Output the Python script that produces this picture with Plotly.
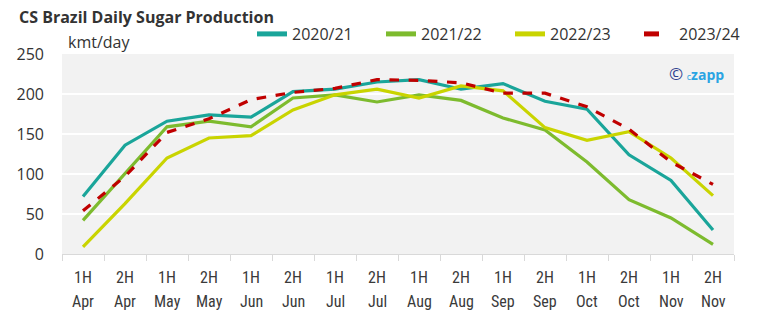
import plotly.graph_objects as go

# Half-month periods of the CS Brazil crush
halves = ["1H", "2H"] * 8
months = ["Apr", "Apr", "May", "May", "Jun", "Jun", "Jul", "Jul",
          "Aug", "Aug", "Sep", "Sep", "Oct", "Oct", "Nov", "Nov"]
categories = [f"{h} {m}" for h, m in zip(halves, months)]

# Daily sugar production, kmt/day
s2020_21 = [72, 136, 166, 174, 171, 203, 206, 215, 218, 206, 213, 191, 181, 124, 92, 30]
s2021_22 = [42, 100, 159, 166, 159, 195, 199, 190, 199, 192, 170, 155, 115, 68, 45, 12]
s2022_23 = [9, 63, 120, 145, 148, 180, 199, 206, 195, 210, 204, 158, 142, 153, 120, 73]
s2023_24 = [54, 97, 152, 169, 193, 202, 207, 218, 217, 214, 201, 201, 184, 156, 115, 87]

series = [
    ("2020/21", s2020_21, "#1aa59a", "solid"),
    ("2021/22", s2021_22, "#7dbb2e", "solid"),
    ("2022/23", s2022_23, "#c9d400", "solid"),
    ("2023/24", s2023_24, "#c00000", "dash"),
]

fig = go.Figure()
for name, vals, color, dash in series:
    fig.add_trace(go.Scatter(
        x=categories, y=vals, name=name, mode="lines",
        line=dict(color=color, width=3.2, dash=dash),
    ))

font_family = "Open Sans, Noto Sans, sans-serif"
narrow_family = "Liberation Sans Narrow, Roboto Condensed, DejaVu Sans Condensed, Open Sans, sans-serif"
text_color = "#333333"

fig.update_layout(
    width=759, height=328,
    margin=dict(l=62, r=25, t=54, b=74, autoexpand=False),
    paper_bgcolor="white",
    plot_bgcolor="#f2f2f2",
    font=dict(family=font_family, size=16, color=text_color),
    showlegend=True,
    legend=dict(
        orientation="h", xref="paper", yref="paper",
        x=(252 - 62) / 672, xanchor="left", y=1.1, yanchor="middle",
        font=dict(size=16, color=text_color),
        entrywidth=84, entrywidthmode="pixels",
        bgcolor="rgba(0,0,0,0)", itemsizing="constant",
        traceorder="normal",
    ),
    xaxis=dict(
        type="category",
        showgrid=False,
        showline=True, linecolor="#d9d9d9", linewidth=1,
        ticks="outside", tickson="boundaries", ticklen=6, tickcolor="#d9d9d9",
        tickmode="array", tickvals=categories, ticktext=halves,
        tickfont=dict(size=16, color="#3a3a3a", family=narrow_family),
        ticklabelstandoff=9,
        range=[-0.5, 15.5],
    ),
    yaxis=dict(
        range=[0, 250], dtick=50,
        showgrid=True, gridcolor="white", gridwidth=1.5,
        zeroline=False, showline=False,
        tickfont=dict(size=16, color=text_color),
        ticklabelstandoff=17,
    ),
)

# Month row under the half-month labels
for cat, month in zip(categories, months):
    fig.add_annotation(
        x=cat, y=0, xref="x", yref="paper", yshift=-47,
        text=month, showarrow=False, xanchor="center", yanchor="middle",
        font=dict(size=16, color="#3a3a3a", family=narrow_family),
    )

fig.add_annotation(
    text="<b>CS Brazil Daily Sugar Production</b>",
    xref="paper", yref="paper", x=-62 / 672, y=1 + 37 / 200,
    xanchor="left", yanchor="middle", showarrow=False,
    font=dict(size=16, color=text_color, family=font_family),
    xshift=17,
)
fig.add_annotation(
    text="kmt/day",
    xref="paper", yref="paper", x=0, y=1 + 12 / 200,
    xanchor="left", yanchor="middle", showarrow=False,
    font=dict(size=16, color=text_color, family=font_family),
    xshift=4,
)
fig.add_annotation(
    text="<span style='color:#2e3f8f;font-size:17px'>©</span> "
         "<span style='font-size:9px'>c</span><b>zapp</b>",
    xref="paper", yref="paper", x=(667 - 62) / 672, y=(254 - 73) / 200,
    xanchor="left", yanchor="middle", showarrow=False,
    font=dict(size=14, color="#2aa4e3", family=font_family),
)

fig.write_html("out.html")
